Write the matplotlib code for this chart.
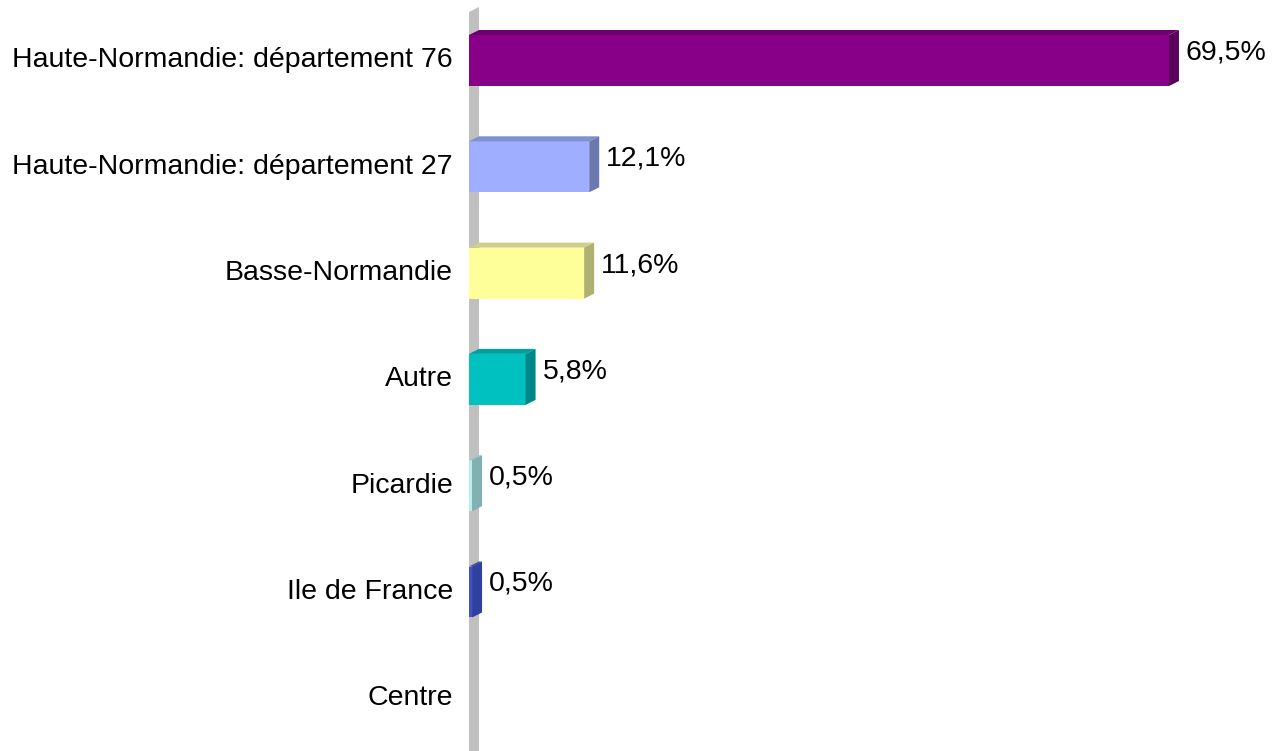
import matplotlib
matplotlib.use("Agg")
import matplotlib.pyplot as plt
from matplotlib.patches import Polygon

categories = ["Haute-Normandie: département 76", "Haute-Normandie: département 27",
              "Basse-Normandie", "Autre", "Picardie", "Ile de France", "Centre"]
values = [69.5, 12.1, 11.6, 5.8, 0.5, 0.5, 0.0]
labels = ["69,5%", "12,1%", "11,6%", "5,8%", "0,5%", "0,5%", ""]
front_colors = ["#880088", "#A0AEFF", "#FFFF99", "#00C0C0", "#B8F0F0", "#4050C8", "#FFFFFF"]
top_colors = ["#6C006C", "#8090D0", "#D0D088", "#00A0A0", "#90C8C8", "#3540A8", "#FFFFFF"]
side_colors = ["#58005A", "#6C78B0", "#B0B070", "#008888", "#80B0B0", "#3040A0", "#FFFFFF"]

W, H = 1273, 751
fig = plt.figure(figsize=(W / 100, H / 100), dpi=100)
ax = fig.add_axes([0, 0, 1, 1])
ax.set_axis_off()

# pixel layout
x0_px, ppx = 467.0, 10.1        # zero position and px per percent
y0_px, ppy = 60.5, 106.3        # first category centre and spacing
ax.set_xlim(-x0_px / ppx, (W - x0_px) / ppx)
ax.set_ylim((H - y0_px) / ppy, -y0_px / ppy)

dx = 10 / ppx      # depth offset right (data units)
dy = 5 / ppy       # depth offset up (data units)
bh = 51 / ppy      # bar thickness
fs = 20.5

# grey wall
wx0, wx1 = (469 - x0_px) / ppx, (479 - x0_px) / ppx
ax.add_patch(Polygon([(wx0, (12 - y0_px) / ppy), (wx1, (7 - y0_px) / ppy),
                      (wx1, (H + 5 - y0_px) / ppy), (wx0, (H + 5 - y0_px) / ppy)],
                     closed=True, facecolor="#C0C0C0", edgecolor="none", zorder=1))

start = wx0
for i, (cat, v, lab) in enumerate(zip(categories, values, labels)):
    ax.text((453 - x0_px) / ppx, i, cat, ha="right", va="center",
            fontsize=fs, family="Liberation Sans", color="black")
    if v <= 0:
        continue
    top = i - bh / 2
    bot = i + bh / 2
    # front
    ax.add_patch(Polygon([(start, top), (v, top), (v, bot), (start, bot)],
                         closed=True, facecolor=front_colors[i], edgecolor="none", zorder=3))
    # top face
    ax.add_patch(Polygon([(start, top), (start + dx, top - dy), (v + dx, top - dy), (v, top)],
                         closed=True, facecolor=top_colors[i], edgecolor="none", zorder=3))
    # side face
    ax.add_patch(Polygon([(v, top), (v + dx, top - dy), (v + dx, bot - dy), (v, bot)],
                         closed=True, facecolor=side_colors[i], edgecolor="none", zorder=3))
    ax.text(v + dx + 7 / ppx, i - 8 / ppy, lab, ha="left", va="center",
            fontsize=fs, family="Liberation Sans", color="black")

fig.savefig("out.png", dpi=100)
